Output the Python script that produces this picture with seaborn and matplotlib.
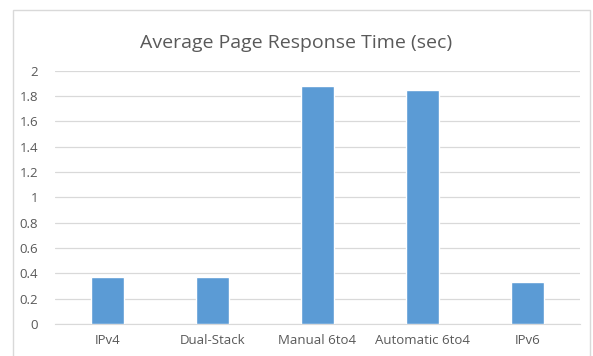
import matplotlib
matplotlib.use("Agg")
import matplotlib.pyplot as plt
import seaborn as sns
import pandas as pd
from matplotlib.patches import Rectangle

# ======================
# Data
# ======================

methods = ["IPv4", "Dual-Stack", "Manual 6to4", "Automatic 6to4", "IPv6"]
response_time = [0.375, 0.375, 1.88, 1.845, 0.335]
y_ticks = [0, 0.2, 0.4, 0.6, 0.8, 1, 1.2, 1.4, 1.6, 1.8, 2]
y_labels = ["0", "0.2", "0.4", "0.6", "0.8", "1", "1.2", "1.4", "1.6", "1.8", "2"]

df = pd.DataFrame({"method": methods, "time": response_time})

# ======================
# Plot
# ======================

sns.set_style("white")
plt.rcParams["font.family"] = ["Open Sans", "DejaVu Sans"]

fig = plt.figure(figsize=(5.93, 3.56), dpi=100)
ax = fig.add_axes([55 / 593, 1 - 324 / 356, 525 / 593, 253.3 / 356])

# chart border
fig.patches.append(Rectangle((13 / 593, -0.05), 577 / 593, 1.05 - 10 / 356,
                             transform=fig.transFigure, fill=False,
                             edgecolor="#D9D9D9", linewidth=1))

sns.barplot(data=df, x="method", y="time", color="#5B9BD5", width=0.315,
            saturation=1, ax=ax, zorder=3)

ax.set_ylim(0, 2)
ax.set_xlim(-0.5, 4.5)
ax.set_yticks(y_ticks)
ax.set_yticklabels(y_labels)
ax.yaxis.grid(True, color="#D9D9D9", linewidth=0.9)
ax.set_axisbelow(True)
for side in ["left", "right", "top"]:
    ax.spines[side].set_visible(False)
ax.spines["bottom"].set_color("#D9D9D9")
ax.tick_params(axis="both", length=0, labelsize=9.5, colors="#595959")
ax.tick_params(axis="y", pad=12)
ax.tick_params(axis="x", pad=7)
ax.set_xlabel("")
ax.set_ylabel("")

fig.text(0.5, 1 - 43 / 356, "Average Page Response Time (sec)", ha="center",
         va="center", fontsize=14, color="#595959")

fig.savefig("out.png", dpi=100)
